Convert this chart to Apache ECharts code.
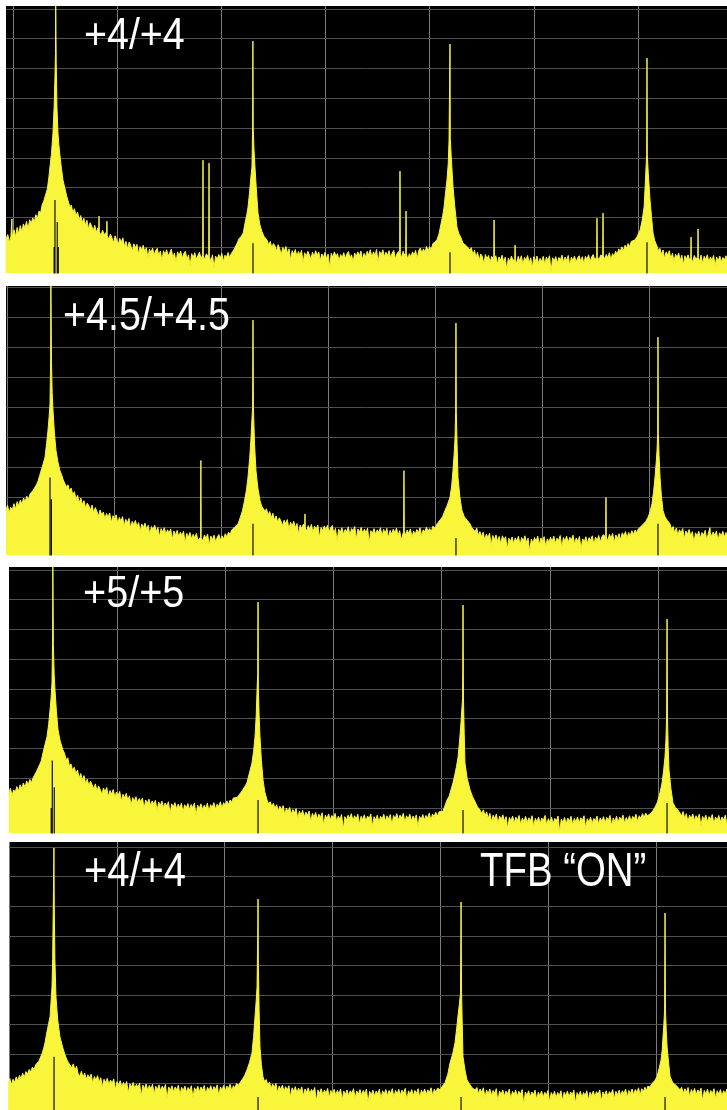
<!DOCTYPE html>
<html><head><meta charset="utf-8">
<script src="https://cdn.jsdelivr.net/npm/echarts@6/dist/echarts.min.js"></script>
<style>html,body{margin:0;padding:0;background:#fff;}#c{width:727px;height:1110px;}</style>
</head><body><div id="c"></div>
<script>
// x: trace point (100 points per division), y: level in dB (10 dB per division)
const xGridTicks = [0, 100, 200, 300, 400, 500, 600];
const yGridTicks = [0, -10, -20, -30, -40, -50, -60, -70, -80];

const panelLabels = ['+4/+4', '+4.5/+4.5', '+5/+5', '+4/+4'];
const noteLabel = 'TFB \u201CON\u201D';

const trace1 = [[-7,-77.5],[-5,-75.8],[-3.5,-78.4],[-2,-76.6],[-1.2,-77.2],[-1,-70.6],[-0.8,-76.8],[1,-74.2],[2.5,-76.5],[4,-73.4],[5.5,-75.6],[7,-72.8],[8.5,-74.9],[10,-72.2],[11.5,-73.6],[13,-71.4],[14.5,-74],[16,-70.8],[17.5,-72.1],[19,-70.2],[20.5,-71.6],[22,-69.1],[23.5,-70.4],[25,-67.9],[26.5,-68.6],[28,-65.8],[29.5,-64.6],[31,-62.8],[33,-60.5],[34.5,-56.5],[35.5,-53.1],[37,-48.5],[38.4,-41.7],[39.5,-33],[40.3,-22.9],[40.8,-15],[41,3],[41.3,3],[41.5,-18],[42.2,-33],[43.2,-41.7],[44,-45.5],[45,-49],[46.5,-53.5],[48,-57.5],[50,-60.5],[51.5,-62.8],[53,-62.4],[54.7,-66.6],[56,-65.9],[57.5,-68.4],[59,-67.1],[60.5,-69.5],[62,-68.2],[63.5,-70.9],[65,-69.4],[66.5,-71.8],[68,-70.3],[69.5,-72.6],[71,-71],[72.5,-73.9],[74,-71.8],[75.5,-72.9],[77,-74.6],[78.5,-72.7],[80,-75.1],[81.5,-73.5],[82.3,-74.6],[82.6,-69.6],[82.9,-74.8],[84.5,-76.2],[86,-74.3],[87.5,-75.8],[89.9,-74.9],[90.2,-71.3],[90.5,-76.2],[92,-77.4],[93.5,-75.6],[95,-76.9],[96.5,-78.6],[98,-76.2],[99.5,-77.5],[101,-79.3],[102.5,-77.1],[104,-78.4],[105.5,-76.9],[107,-79.8],[108.5,-78.1],[110,-80.6],[111.5,-78.3],[113,-79.4],[114.5,-81.5],[116,-78.9],[117.5,-80.2],[119,-79.1],[120.5,-82.4],[122,-79.8],[123.5,-80.9],[125,-79.4],[126.5,-81.6],[128,-80.2],[129.5,-83.5],[131,-80.7],[132.5,-81.9],[134,-80.3],[135.5,-82.7],[137,-81.1],[138.5,-80.4],[140,-82.9],[141.5,-81.3],[143,-84.6],[144.5,-81.2],[146,-82.5],[147.5,-80.9],[149,-83.1],[150.5,-81.8],[152,-80.7],[153.5,-83.6],[155,-82],[156.5,-85.2],[158,-81.6],[159.5,-82.9],[161,-81.3],[162.5,-83.8],[164,-82.1],[165.5,-81.4],[167,-84.2],[168.5,-82.6],[170,-86.4],[171.5,-82.2],[173,-83.5],[174.5,-81.9],[176,-84.1],[177.5,-82.8],[179,-81.7],[180.5,-83.9],[182.1,-82.6],[182.4,-50.8],[182.7,-82.8],[184,-84.4],[185.5,-82.3],[187.9,-83.1],[188.2,-51.8],[188.5,-83.2],[190,-84.8],[191.5,-82.6],[193,-87.1],[194.5,-83],[196,-84.2],[197.5,-82.5],[199,-83.7],[200.5,-82.1],[202,-84.9],[203.5,-82.7],[205,-83.4],[206.5,-81.8],[208,-83.6],[209.5,-82.2],[211,-81.4],[212.5,-80.6],[214,-81.1],[215,-78.8],[217,-77.2],[219,-76.4],[221,-75.3],[223,-71.5],[224.5,-69],[225.6,-66.6],[227,-62],[228.5,-56],[229.4,-53.1],[230,-39.7],[230.3,-10.8],[230.6,-39.7],[231.3,-47],[232.3,-53.1],[233.5,-60],[235.2,-68.6],[237,-72.5],[239,-74.8],[241,-76.4],[243.8,-77.6],[245.5,-79.2],[247,-78.1],[248.5,-80.3],[250,-78.8],[251.5,-79.6],[253,-81.4],[254.5,-79.2],[256,-80.5],[257.5,-82.6],[259,-80.1],[260.5,-81.3],[262,-79.8],[263.5,-82.1],[265,-80.6],[266.5,-84.3],[268,-81.2],[269.5,-82.4],[271,-80.8],[272.5,-83.1],[274,-81.5],[275.5,-82.7],[277,-81.1],[278.5,-85.4],[280,-81.9],[281.5,-83.2],[283,-81.4],[284.5,-82.6],[286,-84],[287.5,-81.7],[289,-83.3],[290.5,-81.2],[292,-82.8],[293.5,-81.6],[295,-84.5],[296.5,-82.3],[298,-83.5],[299.5,-81.8],[301,-83.9],[302.5,-82.4],[304,-86.8],[305.5,-82.1],[307,-83.4],[308.5,-81.6],[310,-83],[311.5,-82.2],[313,-84.7],[314.5,-82.5],[316,-83.6],[317.5,-81.9],[319,-83.8],[320.5,-82.3],[322,-81.5],[323.5,-83.7],[325,-82.6],[326.5,-85.1],[328,-82],[329.5,-83.2],[331,-81.6],[332.5,-82.9],[334,-81.3],[335.5,-84.2],[337,-82.1],[338.5,-83.3],[340,-81.4],[341.5,-82.7],[343,-80.9],[344.5,-83.5],[346,-81.6],[347.5,-82.8],[349,-80.8],[350.5,-85.3],[352,-81.5],[353.5,-82.6],[355,-80.9],[356.5,-83.2],[358,-81.7],[359.5,-82.9],[361,-81.2],[362.5,-83.6],[364,-82],[365.5,-81.1],[367,-83.9],[368.5,-82.3],[370,-81.5],[371.2,-82.4],[371.5,-54.5],[371.8,-82.2],[373,-83.6],[374.5,-81.4],[376,-82.8],[377,-82.1],[377.3,-67.9],[377.6,-82.3],[379,-84.1],[380.5,-82.2],[382,-83.4],[383.5,-81.6],[385,-82.7],[386.5,-81.1],[388,-83.9],[389.5,-81.2],[391,-80.3],[392.5,-82.1],[394,-80.6],[395.5,-81.7],[397,-79.8],[398.5,-81.2],[400,-79.9],[401.5,-80.8],[403,-78.9],[405,-78.2],[407,-77.6],[409,-75.5],[411,-72],[412.5,-69.5],[413.8,-66.6],[415,-62.5],[416.6,-57.5],[417.8,-52],[418.6,-44],[419.2,-43.4],[419.5,-11.8],[419.8,-43.4],[420.6,-49],[421.5,-54.5],[422.4,-59.8],[424,-66],[426.2,-73.3],[428,-75.5],[430,-76.8],[432,-78.7],[435,-79.5],[438.7,-81],[440,-80.2],[441.5,-82.6],[443,-81.1],[444.5,-83.4],[446,-81.8],[447.5,-84.6],[449,-82.3],[450.5,-83.1],[452,-85.7],[453.5,-82.5],[455,-84],[456.5,-82.8],[458,-85.2],[459.5,-83.1],[461.5,-84.3],[461.8,-70.9],[462.1,-84.1],[463.5,-82.9],[465,-85.8],[466.5,-83.3],[468,-84.4],[469.5,-82.7],[471,-85.1],[472.5,-83.4],[474,-87.6],[475.5,-83.7],[477,-84.9],[478.5,-83],[480,-84.6],[481.7,-83.8],[482,-79.3],[482.3,-84.2],[483.5,-85.5],[485,-83.1],[486.5,-84.7],[488,-82.9],[489.5,-85.9],[491,-83.5],[492.5,-84.4],[494,-82.8],[495.5,-85.3],[497,-83.6],[498.5,-86.9],[500,-83.2],[501.5,-84.8],[503,-83],[504.5,-85.5],[506,-83.8],[507.5,-84.9],[509,-83.1],[510.5,-85.8],[512,-83.4],[513.5,-84.5],[515,-82.9],[516.5,-88.3],[518,-83.6],[519.5,-84.7],[521,-83.2],[522.5,-85.4],[524,-83.5],[525.5,-84.3],[527,-82.7],[528.5,-85.1],[530,-83.3],[531.5,-84.6],[533,-82.8],[534.5,-86.2],[536,-83.4],[537.5,-84.5],[539,-83],[540.5,-85],[542,-83.7],[543.5,-82.9],[545,-84.8],[546.5,-83.2],[548,-85.6],[549.5,-83.1],[551,-84.2],[552.5,-82.6],[554,-84.9],[555.5,-83.3],[557,-82.5],[558.5,-84.4],[560.3,-83.3],[560.6,-70.3],[560.9,-83.1],[562.5,-84.6],[564,-82.7],[566.1,-83],[566.4,-68.6],[566.7,-82.8],[568,-84.2],[569.5,-82.5],[571,-83.6],[572.5,-81.9],[574,-84.3],[575.5,-82.2],[577,-83.1],[578.5,-81.4],[580,-82.4],[581.5,-80.6],[583,-81.5],[584.5,-79.9],[586,-81.2],[587.5,-79.4],[589,-80.3],[590.5,-78.8],[592,-79.9],[593.5,-78.1],[595,-78.6],[597,-77.6],[599,-76.5],[602,-74.3],[604,-71],[605.8,-66.6],[606.8,-60],[607.7,-53.1],[608.3,-49],[608.6,-16.5],[608.9,-49],[609.8,-55],[611.5,-64.2],[613,-70],[614.4,-75.3],[616,-77.8],[618,-79.5],[619.5,-81.2],[621,-80.4],[622.5,-82.5],[624,-81],[625.5,-83.8],[627,-81.6],[628.5,-82.7],[630,-81.2],[631.5,-83.9],[633,-82.1],[634.5,-84.8],[636,-82.4],[637.5,-83.5],[639,-82],[640.5,-84.6],[642,-82.7],[643.5,-85.9],[645,-82.9],[646.5,-84.1],[648,-82.6],[649.5,-84.4],[650.6,-83.5],[650.9,-76.6],[651.2,-83.7],[652.5,-85.2],[654,-82.8],[655.5,-84],[657.3,-83.3],[657.6,-73.9],[657.9,-83.5],[659,-84.9],[660.5,-82.7],[662,-85.6],[663.5,-83.1],[665,-84.2],[666.5,-82.6],[668,-85.1],[669.5,-83.3],[671,-84.5],[672.5,-82.8],[674,-86.3],[675.5,-83.4],[677,-84.6],[678.5,-83],[680,-85],[681.5,-83.5],[683,-84.3],[684.5,-82.9],[686,-84.8],[687.5,-83.6]];

const trace2 = [[-1,-74.4],[0.5,-72.6],[2,-75.1],[3.5,-73.3],[5,-74.2],[6.5,-72.1],[8,-73.9],[9.5,-71.4],[11,-72.8],[12.5,-70.9],[14,-72.3],[15.5,-70.2],[17,-71.5],[18.5,-69.6],[20,-70.8],[21.5,-68.9],[23,-69.4],[24.5,-67.6],[26,-67.9],[27.5,-65.8],[29,-64.6],[30.5,-62.7],[31.5,-62.1],[33,-59.8],[35.5,-56.7],[37,-52],[38.3,-47.7],[39.4,-43],[40.2,-38.7],[40.8,-23.3],[41,3],[41.3,3],[41.6,-25],[42.2,-35],[43,-41],[44.3,-48.5],[45.8,-54.4],[47.5,-58],[49.5,-61.1],[51,-62.4],[52.5,-64.1],[54,-63.6],[55.5,-66.5],[57,-65.8],[58.5,-67.9],[60,-66.9],[61.5,-69.2],[63,-68.1],[64.5,-70.6],[66,-69.3],[67.5,-71.8],[69,-70.2],[70.5,-72.4],[72,-71.1],[73.5,-73.6],[75,-71.9],[76.5,-72.8],[78,-74.3],[79.5,-72.6],[81,-75.1],[82.5,-73.4],[84,-74.6],[85.5,-76.3],[87,-74.2],[88.5,-75.8],[90,-74.9],[91.5,-77.1],[93,-75.4],[94.5,-76.6],[96,-75.2],[97.5,-78.4],[99,-76.1],[100.5,-77.2],[102,-75.8],[103.5,-78.6],[105,-76.7],[106.5,-77.9],[108,-76.4],[109.5,-79.5],[111,-77.3],[112.5,-78.5],[114,-77],[115.5,-80.2],[117,-78],[118.5,-79.1],[120,-77.7],[121.5,-79.8],[123,-78.4],[124.5,-81.3],[126,-78.9],[127.5,-80],[129,-78.6],[130.5,-80.7],[132,-79.3],[133.5,-82.4],[135,-79.7],[136.5,-80.8],[138,-79.2],[139.5,-81.4],[141,-80],[142.5,-83.1],[144,-80.4],[145.5,-81.6],[147,-80.1],[148.5,-82.3],[150,-80.8],[151.5,-81.9],[153,-80.5],[154.5,-84],[156,-81.2],[157.5,-82.5],[159,-81],[160.5,-83.1],[162,-81.6],[163.5,-82.8],[165,-81.3],[166.5,-85.2],[168,-82],[169.5,-83.3],[171,-81.7],[172.5,-83.8],[174,-82.3],[175.5,-83.5],[177,-82],[178.5,-84.4],[180.9,-83.2],[181.2,-57.7],[181.5,-83.4],[183,-84.6],[184.5,-82.5],[186,-83.7],[187.5,-82.2],[189,-86.1],[190.5,-82.9],[192,-84.1],[193.5,-82.6],[195,-84.8],[196.5,-83.3],[198,-82.4],[199.5,-84.3],[201,-82.8],[202.5,-83.9],[204,-82.1],[205.5,-83.2],[207,-81.6],[208.5,-82.4],[210,-80.9],[211.5,-81.5],[213,-79.8],[214.5,-80.3],[216,-78.8],[218,-76.7],[220,-74.5],[222,-71.1],[223.8,-67.5],[225.2,-63.4],[226.8,-57],[228,-50.5],[229.5,-40],[229.9,-10.9],[230.3,-40],[231.3,-52],[232.7,-61.1],[234.5,-67],[236.5,-71.1],[238,-72.9],[239.5,-72.4],[241,-74.6],[242.5,-73.8],[244,-75.9],[245.5,-74.7],[247,-76.8],[248.5,-75.3],[250,-77.6],[251.5,-76.2],[253,-78.3],[254.5,-76.8],[256,-77.9],[257.5,-79.4],[259,-77.6],[260.5,-78.8],[262,-77.4],[263.5,-80.6],[265,-78.3],[266.5,-79.5],[268,-78],[269.5,-80.1],[271,-78.7],[272.5,-82.2],[274,-79.2],[275.5,-80.4],[277,-78.9],[278.2,-79.6],[278.5,-75.5],[278.8,-80.2],[280,-81.3],[281.5,-79.4],[283,-80.6],[284.5,-79],[286,-81.8],[287.5,-79.6],[289,-80.7],[290.5,-79.2],[292,-83.4],[293.5,-80],[295,-81.1],[296.5,-79.5],[298,-80.8],[299.5,-79.3],[301,-81.6],[302.5,-80.1],[304,-79.4],[305.5,-82],[307,-80.3],[308.5,-84.6],[310,-80.6],[311.5,-81.7],[313,-80.1],[314.5,-82.3],[316,-80.7],[317.5,-81.5],[319,-79.8],[320.5,-82.6],[322,-80.4],[323.5,-81.2],[325,-79.7],[326.5,-83.8],[328,-80.5],[329.5,-81.6],[331,-80],[332.5,-82.1],[334,-80.6],[335.5,-81.8],[337,-80.2],[338.5,-85.3],[340,-81.1],[341.5,-82],[343,-80.4],[344.5,-82.4],[346,-80.8],[347.5,-81.7],[349,-80.1],[350.5,-82.9],[352,-80.7],[353.5,-81.9],[355,-80.3],[356.5,-83.5],[358,-81],[359.5,-82.2],[361,-80.6],[362.5,-81.8],[364,-80.2],[365.5,-82.7],[367,-81.1],[368.5,-84.2],[370.7,-81.3],[371,-61.1],[371.3,-81.2],[372.5,-82.6],[374,-80.9],[375.5,-82],[377,-80.5],[378.5,-83.3],[380,-81.2],[381.5,-82.4],[383,-80.7],[384.5,-81.8],[386,-80.1],[387.5,-82.9],[389,-80.8],[390.5,-81.6],[392,-79.9],[393.5,-81.3],[395,-80.4],[396.5,-81.5],[398,-79.6],[400,-80.2],[402,-78.8],[405,-77.4],[407,-76.5],[409.3,-74.4],[411.5,-72.6],[414,-70],[415.5,-66.5],[416.8,-61.1],[417.8,-56],[418.7,-50.5],[419.3,-41.3],[419.6,-11.9],[419.9,-41.3],[420.6,-52],[421.5,-63.4],[423.3,-70],[425.2,-74.4],[427.5,-76.5],[430,-77.6],[432.7,-78.8],[434.5,-80.2],[436,-79.6],[437.5,-81.4],[439,-80.2],[440.5,-82.6],[442,-81.4],[443.5,-83.1],[445,-81.6],[446.5,-84.3],[448,-82.2],[449.5,-83.5],[451,-81.9],[452.5,-86],[454,-82.7],[455.5,-84.1],[457,-82.5],[458.5,-84.7],[460,-83],[461.5,-85.5],[463,-82.8],[464.5,-84.2],[466,-83.1],[467.5,-87.4],[469,-83.6],[470.5,-84.8],[472,-83.2],[473.5,-85.4],[475,-83.5],[476.5,-84.6],[478,-82.9],[479.5,-85.9],[481,-83.4],[482.5,-84.5],[484,-82.8],[485.5,-85.1],[487,-83.6],[488.5,-88.1],[490,-83.9],[491.5,-85.2],[493,-83.4],[494.5,-84.6],[496,-82.9],[497.5,-85.7],[499,-83.5],[500.5,-84.8],[502,-83.1],[503.5,-86.4],[505,-83.8],[506.5,-85],[508,-83.3],[509.5,-84.7],[511,-82.9],[512.5,-85.4],[514,-83.6],[515.5,-84.4],[517,-82.7],[518.5,-86.8],[520,-83.4],[521.5,-84.6],[523,-82.9],[524.5,-85.1],[526,-83.3],[527.5,-84.2],[529,-82.6],[530.5,-85.6],[532,-83.5],[533.5,-84.7],[535,-83],[536.5,-87.2],[538,-83.8],[539.5,-84.9],[541,-83.1],[542.5,-85.3],[544,-83.4],[545.5,-84.3],[547,-82.8],[548.5,-85.8],[550,-83.2],[551.5,-84.4],[553,-82.7],[554.5,-84.9],[556,-83.1],[557.5,-82.4],[559.5,-83.4],[559.8,-70],[560.1,-83.2],[561.5,-84.5],[563,-82.3],[564.5,-83.6],[566,-82],[567.5,-85.1],[569,-82.5],[570.5,-83.7],[572,-82.1],[573.5,-84.2],[575,-81.8],[576.5,-82.9],[578,-81.4],[579.5,-83.6],[581,-81.7],[582.5,-82.8],[584,-81.1],[585.5,-82.4],[587,-80.9],[588.5,-81.8],[590,-80.5],[591.6,-80.1],[594,-79.2],[597,-78],[599,-76.7],[601,-74.8],[602.8,-72.1],[604.3,-68],[605.6,-63.4],[606.7,-58.5],[607.5,-54.4],[608.1,-48.7],[608.4,-16.6],[608.7,-48.7],[609.4,-56],[610.3,-63.4],[611.6,-69.5],[613.1,-74.4],[615,-76.5],[617,-77.6],[619.6,-78.8],[621,-80.6],[622.5,-79.7],[624,-81.8],[625.5,-80.2],[627,-82.6],[628.5,-80.8],[630,-81.9],[631.5,-80.4],[633,-83.7],[634.5,-81.2],[636,-82.3],[637.5,-80.7],[639,-82.9],[640.5,-81.4],[642,-85.1],[643.5,-81.8],[645,-82.9],[646.5,-81.3],[648,-83.5],[649.5,-81.7],[651,-82.6],[652.5,-81],[654,-84.2],[655.5,-81.9],[656.7,-81.4],[657,-80.1],[657.3,-81.7],[658.5,-83],[660,-81.5],[661.5,-82.7],[663,-81.2],[664.5,-84.4],[666,-81.8],[667.5,-82.9],[669,-81.3],[670.5,-83.2],[672,-81.7],[673.5,-82.8],[675,-81.5]];

const trace3 = [[0,-75],[1.5,-73.4],[3,-75.8],[4.5,-73.9],[6,-74.6],[7.5,-72.8],[9,-74.3],[10.5,-72.2],[12,-73.5],[13.5,-71.6],[15,-73.1],[16.5,-70.9],[18,-72.2],[19.5,-70.4],[21,-71.5],[22.5,-69.8],[24,-69.9],[25.5,-67.8],[27,-67.2],[28.5,-65.4],[30,-64.2],[31.6,-61.5],[33.5,-58.6],[35.3,-56.1],[36.8,-52],[38.1,-47.1],[39.1,-43],[39.9,-38],[40.5,-22.5],[40.7,3],[41,3],[41.2,-25],[41.9,-35],[42.7,-40.3],[44,-47.5],[45.5,-53.8],[47.5,-57.5],[50,-60.5],[51.5,-61.6],[53,-63.8],[54.5,-63.1],[56,-65.9],[57.5,-65.2],[59,-67.4],[60.5,-66.3],[62,-68.5],[63.5,-67.2],[65,-69.9],[66.5,-68.4],[68,-70.6],[69.5,-69.1],[71,-71.8],[72.5,-70.3],[74,-72.5],[75.5,-71],[77,-72.2],[78.5,-73.6],[80,-71.9],[81.5,-74.2],[83,-72.6],[84.5,-73.8],[86,-75.4],[87.5,-73.3],[89,-74.6],[90.5,-73.1],[92,-76.2],[93.5,-74.1],[95,-75.3],[96.5,-73.8],[98,-76.4],[99.5,-74.6],[101,-75.9],[102.5,-74.4],[104,-77.6],[105.5,-75.4],[107,-76.6],[108.5,-75.1],[110,-77.3],[111.5,-75.9],[113,-79.1],[114.5,-76.5],[116,-77.7],[117.5,-76.2],[119,-78.3],[120.5,-76.8],[122,-77.9],[123.5,-76.6],[125,-80.2],[126.5,-77.3],[128,-78.5],[129.5,-77],[131,-79.2],[132.5,-77.6],[134,-78.8],[135.5,-77.4],[137,-81],[138.5,-78],[140,-79.2],[141.5,-77.7],[143,-79.8],[144.5,-78.3],[146,-79.4],[147.5,-77.9],[149,-82.1],[150.5,-78.6],[152,-79.7],[153.5,-78.2],[155,-80.3],[156.5,-78.7],[158,-79.9],[159.5,-78.4],[161,-81.5],[162.5,-78.9],[164,-80],[165.5,-78.5],[167,-80.6],[168.5,-78.8],[170,-79.9],[171.5,-78.3],[173,-82.6],[174.5,-79],[176,-80.2],[177.5,-78.6],[179,-80.5],[180.5,-79.1],[182,-80.1],[183.5,-78.4],[185,-81.2],[186.5,-78.9],[188,-79.8],[189.5,-78.2],[191,-80.4],[192.5,-78.7],[194,-79.5],[195.5,-77.9],[197,-80.1],[198.5,-78.2],[200,-79.1],[201.5,-77.6],[203,-78.9],[204.5,-77.3],[206,-78.1],[207.5,-76.6],[209,-77.2],[211,-76.5],[214,-75],[216,-74],[218,-72.8],[220,-71.6],[222.5,-68],[224.7,-64.9],[226.2,-61],[227.5,-56.1],[228.6,-49],[229.4,-40.3],[230,-35],[230.3,-10.8],[230.6,-40],[231.3,-49],[232.1,-56.1],[233.4,-64],[234.9,-70.6],[236.5,-74.5],[238.6,-77.3],[240,-78.6],[241.5,-77.9],[243,-79.5],[244.5,-78.4],[246,-80.2],[247.5,-78.9],[249,-81.1],[250.5,-79.4],[252,-80.6],[253.5,-79.2],[255,-82.3],[256.5,-80],[258,-81.3],[259.5,-79.8],[261,-82.1],[262.5,-80.5],[264,-81.7],[265.5,-80.2],[267,-83.6],[268.5,-81.1],[270,-82.4],[271.5,-80.8],[273,-83],[274.5,-81.4],[276,-82.5],[277.5,-81],[279,-84.8],[280.5,-81.8],[282,-83.1],[283.5,-81.5],[285,-83.7],[286.5,-82.1],[288,-83.2],[289.5,-81.6],[291,-85.9],[292.5,-82.4],[294,-83.6],[295.5,-82],[297,-84.1],[298.5,-82.5],[300,-83.4],[301.5,-81.8],[303,-84.6],[304.5,-82.7],[306,-83.9],[307.5,-82.2],[309,-87.3],[310.5,-82.9],[312,-84.1],[313.5,-82.4],[315,-83.5],[316.5,-81.9],[318,-84.3],[319.5,-82.6],[321,-83.8],[322.5,-82.1],[324,-85.4],[325.5,-82.8],[327,-83.9],[328.5,-82.3],[330,-84.5],[331.5,-82.7],[333,-83.6],[334.5,-82],[336,-86.2],[337.5,-82.9],[339,-84],[340.5,-82.4],[342,-84.7],[343.5,-82.8],[345,-83.7],[346.5,-82.1],[348,-84.4],[349.5,-82.6],[351,-83.8],[352.5,-82.2],[354,-85.8],[355.5,-82.5],[357,-83.6],[358.5,-81.9],[360,-84.1],[361.5,-82.4],[363,-83.3],[364.5,-81.8],[366,-84.9],[367.5,-82.6],[369,-83.7],[370.5,-82.1],[372,-84.3],[373.5,-82.7],[375,-83.9],[376.5,-82.3],[378,-86.5],[379.5,-82.8],[381,-83.9],[382.5,-82.2],[384,-84],[385.5,-82.5],[387,-83.4],[388.5,-81.7],[390,-84.2],[391.5,-82],[393,-82.9],[394.5,-81.4],[396,-82.8],[397.5,-81.3],[398.4,-80.7],[401,-81.2],[403,-79.2],[404.9,-77.3],[407,-76],[408.8,-73.6],[410.4,-71.6],[412,-69],[413.7,-66],[415.1,-62.9],[416.5,-57.5],[417.8,-51.4],[419.3,-43],[419.7,-11.8],[420.1,-43],[420.8,-55],[421.5,-64.9],[423.5,-70],[426.2,-73.9],[428.5,-76.2],[431,-78],[433,-79.6],[435.4,-80.7],[437,-81.9],[438.5,-80.6],[440,-82.7],[441.5,-81.3],[443,-83.5],[444.5,-81.8],[446,-84.6],[447.5,-82.4],[449,-83.6],[450.5,-82],[452,-85.3],[453.5,-82.7],[455,-83.9],[456.5,-82.3],[458,-84.5],[459.5,-82.9],[461,-87],[462.5,-83.2],[464,-84.3],[465.5,-82.7],[467,-85],[468.5,-83.1],[470,-84.2],[471.5,-82.5],[473,-85.7],[474.5,-83.4],[476,-84.6],[477.5,-82.8],[479,-84.9],[480.5,-83.3],[482,-84.4],[483.5,-82.6],[485,-86.3],[486.5,-83.5],[488,-84.7],[489.5,-83],[491,-85.2],[492.5,-83.4],[494,-84.1],[495.5,-82.5],[497,-85.8],[498.5,-83.6],[500,-84.8],[501.5,-83.1],[503,-85.3],[504.5,-83.5],[506,-84.3],[507.5,-82.7],[509,-88],[510.5,-83.7],[512,-84.9],[513.5,-83.2],[515,-85.4],[516.5,-83.4],[518,-84.5],[519.5,-82.8],[521,-85.6],[522.5,-83.5],[524,-84.7],[525.5,-83],[527,-85.1],[528.5,-83.3],[530,-84.2],[531.5,-82.6],[533,-86.7],[534.5,-83.6],[536,-84.8],[537.5,-83.1],[539,-85.2],[540.5,-83.5],[542,-84.4],[543.5,-82.7],[545,-85.5],[546.5,-83.3],[548,-84.5],[549.5,-82.9],[551,-85],[552.5,-83.2],[554,-84.1],[555.5,-82.5],[557,-86],[558.5,-83.4],[560,-84.5],[561.5,-82.8],[563,-84.8],[564.5,-83.1],[566,-84],[567.5,-82.4],[569,-85.2],[570.5,-83.2],[572,-84.3],[573.5,-82.6],[575,-84.5],[576.5,-82.8],[578,-83.7],[579.5,-82.1],[581,-84.6],[582.5,-82.6],[584,-83.5],[585.5,-81.9],[587,-83.2],[588.5,-81.7],[590,-82.6],[592.5,-82],[595,-81],[597,-79.8],[599,-78.3],[601,-76],[603.6,-71.6],[605,-67.5],[606.3,-62.9],[607.2,-57],[607.8,-49.4],[608.2,-16.5],[608.6,-49.4],[609.2,-59],[610,-67.2],[611.8,-73.5],[613.7,-78.3],[616,-79.8],[618,-80.6],[620.2,-81.7],[621.5,-82.8],[623,-81.2],[624.5,-83.5],[626,-81.9],[627.5,-84.7],[629,-82.4],[630.5,-83.6],[632,-82],[633.5,-84.2],[635,-82.6],[636.5,-83.7],[638,-82.1],[639.5,-86.1],[641,-82.8],[642.5,-84],[644,-82.4],[645.5,-84.6],[647,-82.9],[648.5,-83.8],[650,-82.2],[651.5,-85.3],[653,-83],[654.5,-84.1],[656,-82.5],[657.5,-84.7],[659,-83],[660.5,-84],[662,-82.4],[663.5,-85.5],[665,-83.1]];

const trace4 = [[-1,-79.7],[0.5,-78.2],[2,-80.4],[3.5,-78.5],[5,-79.6],[6.5,-77.7],[8,-79.1],[9.5,-77.2],[11,-78.3],[12.5,-76.5],[14,-77.9],[15.5,-75.9],[17,-76.8],[18.5,-75.2],[20,-76.1],[21.5,-74.4],[23,-75.3],[24.5,-73.6],[26,-73.9],[27.5,-72.4],[28.6,-72],[30.5,-69.8],[32,-68],[33.2,-66.2],[35,-62.5],[36.5,-59.8],[37.9,-57.4],[38.8,-52.5],[39.7,-47.3],[40.3,-38],[40.6,-29.1],[41.1,-14],[41.5,-0.3],[41.8,-20],[42.4,-38],[43.4,-50.7],[45,-58.5],[47.1,-64.2],[49.5,-67.6],[51.5,-70],[53.6,-72],[55,-72.9],[56.5,-72.4],[58,-74.6],[59.5,-73.3],[61,-75.5],[62.5,-74.1],[64,-76.7],[65.7,-77.4],[67,-75.8],[68.5,-77.9],[70,-76.4],[71.5,-78.6],[73,-77],[74.5,-78.1],[76,-76.8],[77.5,-79.9],[79,-77.6],[80.5,-78.8],[82,-77.3],[83.5,-79.5],[85,-78],[86.5,-81.2],[88,-78.5],[89.5,-79.7],[91,-78.2],[92.5,-80.3],[94,-78.8],[95.5,-79.9],[97,-78.4],[98.5,-82],[100,-79.3],[101.5,-80.5],[103,-79],[104.5,-81.1],[106,-79.6],[107.5,-80.8],[109,-79.3],[110.5,-83.2],[112,-80],[113.5,-81.2],[115,-79.6],[116.5,-81.7],[118,-80.2],[119.5,-81.3],[121,-79.8],[122.5,-84.4],[124,-80.5],[125.5,-81.7],[127,-80.1],[128.5,-82.2],[130,-80.6],[131.5,-81.8],[133,-80.2],[134.5,-83.6],[136,-80.9],[137.5,-82],[139,-80.4],[140.5,-82.5],[142,-80.8],[143.5,-81.9],[145,-80.3],[146.5,-85.1],[148,-81.1],[149.5,-82.3],[151,-80.7],[152.5,-82.8],[154,-81.1],[155.5,-82.1],[157,-80.5],[158.5,-83.9],[160,-81.2],[161.5,-82.4],[163,-80.8],[164.5,-82.9],[166,-81.3],[167.5,-82.3],[169,-80.7],[170.5,-84.8],[172,-81.4],[173.5,-82.5],[175,-80.9],[176.5,-82.7],[178,-81.1],[179.5,-82.2],[181,-80.6],[182.5,-83.7],[184,-81.2],[185.5,-82.3],[187,-80.7],[188.5,-82.6],[190,-81],[191.5,-82],[193,-80.4],[194.5,-84.3],[196,-81.1],[197.5,-82.2],[199,-80.6],[200.5,-82.4],[202,-80.8],[203.5,-81.7],[205,-80.2],[206.5,-82.5],[208,-80.7],[209.5,-81.4],[211,-79.9],[212.5,-80.6],[214.2,-79.7],[216.5,-78.4],[218.5,-77.2],[220.7,-75.3],[223,-72.8],[225.3,-69.6],[226.8,-64],[228.1,-57.4],[229.2,-52],[230,-47.3],[230.6,-30],[230.9,-17.6],[231.2,-40],[231.9,-55],[232.7,-67.6],[234,-73.5],[235.5,-77.7],[237,-79.3],[238.5,-78.6],[240,-80.5],[241.5,-79.4],[243,-81.6],[244.5,-80.1],[246,-81.3],[247.5,-79.9],[249,-83.1],[250.5,-80.8],[252,-82],[253.5,-80.5],[255,-82.6],[256.5,-81],[258,-82.2],[259.5,-80.7],[261,-84.5],[262.5,-81.4],[264,-82.6],[265.5,-81],[267,-83.1],[268.5,-81.5],[270,-82.7],[271.5,-81.1],[273,-84.1],[274.5,-81.8],[276,-83],[277.5,-81.4],[279,-83.5],[280.5,-81.9],[282,-82.9],[283.5,-81.3],[285,-86],[286.5,-82.1],[288,-83.3],[289.5,-81.7],[291,-83.8],[292.5,-82.2],[294,-83.2],[295.5,-81.6],[297,-84.7],[298.5,-82.3],[300,-83.5],[301.5,-81.9],[303,-83.9],[304.5,-82.3],[306,-83.4],[307.5,-81.8],[309,-85.5],[310.5,-82.5],[312,-83.7],[313.5,-82.1],[315,-84.1],[316.5,-82.4],[318,-83.3],[319.5,-81.7],[321,-84.9],[322.5,-82.5],[324,-83.6],[325.5,-82],[327,-83.9],[328.5,-82.3],[330,-83.4],[331.5,-81.8],[333,-86.4],[334.5,-82.6],[336,-83.8],[337.5,-82.2],[339,-84.2],[340.5,-82.5],[342,-83.5],[343.5,-81.9],[345,-85],[346.5,-82.4],[348,-83.6],[349.5,-82],[351,-84],[352.5,-82.3],[354,-83.3],[355.5,-81.7],[357,-84.6],[358.5,-82.3],[360,-83.5],[361.5,-81.9],[363,-83.8],[364.5,-82.2],[366,-83.2],[367.5,-81.6],[369,-85.7],[370.5,-82.4],[372,-83.6],[373.5,-82],[375,-84],[376.5,-82.3],[378,-83.3],[379.5,-81.7],[381,-84.8],[382.5,-82.2],[384,-83.4],[385.5,-81.8],[387,-83.7],[388.5,-82.1],[390,-83],[391.5,-81.4],[393,-84.1],[394.5,-81.9],[396,-82.9],[397.5,-81.5],[399.8,-82.1],[402,-80.8],[404.4,-79.7],[407,-76.8],[409.1,-73],[411.5,-70],[413.7,-66.2],[415.2,-61.5],[416.5,-57],[417.8,-53],[418.8,-49.3],[419.3,-18.6],[419.8,-49.3],[420.4,-60],[421.1,-70.9],[423,-75.5],[424.8,-78.7],[427,-80],[429.5,-81.4],[432.3,-82.1],[434,-81.3],[435.5,-83.4],[437,-81.8],[438.5,-83],[440,-81.4],[441.5,-84.6],[443,-82.2],[444.5,-83.4],[446,-81.8],[447.5,-83.9],[449,-82.3],[450.5,-83.3],[452,-81.7],[453.5,-86.1],[455,-82.5],[456.5,-83.7],[458,-82.1],[459.5,-84.2],[461,-82.5],[462.5,-83.5],[464,-81.9],[465.5,-85.2],[467,-82.6],[468.5,-83.8],[470,-82.2],[471.5,-84.3],[473,-82.6],[474.5,-83.6],[476,-82],[477.5,-87.1],[479,-82.8],[480.5,-84],[482,-82.4],[483.5,-84.5],[485,-82.8],[486.5,-83.8],[488,-82.2],[489.5,-85.4],[491,-82.9],[492.5,-84.1],[494,-82.5],[495.5,-84.6],[497,-82.9],[498.5,-83.9],[500,-82.3],[501.5,-86.3],[503,-83],[504.5,-84.2],[506,-82.6],[507.5,-84.7],[509,-83],[510.5,-84],[512,-82.4],[513.5,-85.8],[515,-82.9],[516.5,-84.1],[518,-82.5],[519.5,-84.5],[521,-82.8],[522.5,-83.8],[524,-82.2],[525.5,-86.6],[527,-83],[528.5,-84.2],[530,-82.6],[531.5,-84.7],[533,-83],[534.5,-84],[536,-82.4],[537.5,-85.5],[539,-82.9],[540.5,-84.1],[542,-82.5],[543.5,-84.4],[545,-82.7],[546.5,-83.7],[548,-82.1],[549.5,-86],[551,-82.8],[552.5,-84],[554,-82.4],[555.5,-84.4],[557,-82.7],[558.5,-83.6],[560,-82],[561.5,-85.1],[563,-82.6],[564.5,-83.8],[566,-82.2],[567.5,-84.1],[569,-82.4],[570.5,-83.4],[572,-81.8],[573.5,-84.6],[575,-82.3],[576.5,-83.4],[578,-81.8],[579.5,-83.7],[581,-82],[582.5,-83],[584,-81.4],[585.5,-83.9],[587,-81.7],[588.5,-82.7],[590,-81.2],[591.5,-82.4],[592.5,-80.9],[594.6,-81.1],[597,-79.8],[599,-79],[601.1,-77.7],[603,-75],[604.9,-72],[606,-68.5],[606.7,-64.2],[607.5,-60],[608.2,-55.1],[608.6,-22.3],[609,-55.1],[609.7,-62],[610.5,-67.6],[611.9,-73],[613.3,-77.7],[616,-79.8],[619,-80.6],[622.6,-82.1],[624,-81.2],[625.5,-83.3],[627,-81.7],[628.5,-82.9],[630,-81.3],[631.5,-84.5],[633,-82],[634.5,-83.2],[636,-81.6],[637.5,-83.7],[639,-82.1],[640.5,-83.1],[642,-81.5],[643.5,-85.8],[645,-82.3],[646.5,-83.5],[648,-81.9],[649.5,-84],[651,-82.3],[652.5,-83.3],[654,-81.7],[655.5,-84.9],[657,-82.4],[658.5,-83.6],[660,-82],[661.5,-84.1],[663,-82.4],[664.5,-83.4],[666,-81.8],[667.5,-84.3]];

// dark streaks at the carrier bases: [point, top level dB]
const streaks1 = [[39.5,-80],[40.3,-64.2],[42.5,-71.6],[43.5,-80],[230.4,-78.7],[419.5,-81.7],[608.6,-78.4]];
const streaks2 = [[40.2,-63.4],[41.5,-70.6],[229.9,-78.8],[419.6,-83.5],[608.4,-78.8]];
const streaks3 = [[39.2,-80],[40.2,-64],[42,-73],[230.3,-77.3],[419.7,-80.7],[608.2,-78.3]];
const streaks4 = [[41.6,-70.9],[230.9,-84.5],[419.3,-84.5],[608.6,-84.5]];

const traces = [trace1, trace2, trace3, trace4];
const streaks = [streaks1, streaks2, streaks3, streaks4];

// layout of the four screen panels
const panels = [
  {left:6, top:6,   width:721, height:267, xmin:-6.7, xmax:685.4, ymin:-88.7, ymax:1.0},
  {left:6, top:286, width:721, height:269, xmin:-0.93, xmax:672.9, ymin:-89.2, ymax:0.47},
  {left:9, top:567, width:718, height:266, xmin:0.2, xmax:663.6, ymin:-88.4, ymax:1.0},
  {left:9, top:842, width:718, height:268, xmin:-0.2, xmax:666.1, ymin:-88.9, ymax:1.7}
];
const textLayout = [
  {x:84, y:37, size:45, sx:0.875},
  {x:63, y:317.5, size:47, sx:0.84},
  {x:83, y:594.5, size:44, sx:0.9},
  {x:84, y:873, size:48, sx:0.83}
];

const YEL = '#f9f53b';
const VGRID = '#7c7c7c';
const HGRID = '#505050';

const grid = [], xAxis = [], yAxis = [], series = [], graphic = [];
panels.forEach((p, i) => {
  grid.push({left:p.left, top:p.top, width:p.width, height:p.height, show:true,
    backgroundColor:'#000', borderWidth:0, z:0});
  xAxis.push({type:'value', gridIndex:i, min:p.xmin, max:p.xmax, show:false});
  yAxis.push({type:'value', gridIndex:i, min:p.ymin, max:p.ymax, show:false});
  series.push({
    type:'line', xAxisIndex:i, yAxisIndex:i, data:[[p.xmin, p.ymin - 50]], symbol:'none',
    lineStyle:{opacity:0}, silent:true, z:1,
    markLine:{silent:true, z:1, symbol:['none','none'], label:{show:false}, animation:false,
      data: xGridTicks.map(v => ({xAxis:v, lineStyle:{color:VGRID, width:1, type:'solid'}}))
        .concat(yGridTicks.map(v => ({yAxis:v, lineStyle:{color:HGRID, width:1, type:'solid'}})))}
  });
  series.push({
    type:'line', xAxisIndex:i, yAxisIndex:i, data:traces[i], symbol:'none', showSymbol:false,
    sampling:null, silent:true, z:3,
    lineStyle:{color:YEL, width:1},
    areaStyle:{color:YEL, opacity:1, origin:'start'}
  });
  const sd = [];
  streaks[i].forEach(s => { sd.push([s[0], p.ymin - 20]); sd.push([s[0], s[1]]); sd.push([s[0], '-']); });
  series.push({
    type:'line', xAxisIndex:i, yAxisIndex:i, data:sd, symbol:'none', silent:true, z:4,
    connectNulls:false, lineStyle:{color:'#111', width:1.2}
  });
  const t = textLayout[i];
  graphic.push({type:'text', x:t.x, y:t.y, scaleX:t.sx, z:100, silent:true,
    style:{text:panelLabels[i], fill:'#ffffff', font:t.size + 'px "Liberation Sans", Arial, sans-serif',
      verticalAlign:'middle', align:'left'}});
});
graphic.push({type:'text', x:480, y:873, scaleX:0.8, z:100, silent:true,
  style:{text:noteLabel, fill:'#ffffff', font:'48px "Liberation Sans", Arial, sans-serif',
    verticalAlign:'middle', align:'left'}});

const chart = echarts.init(document.getElementById('c'), null, {renderer:'canvas'});
chart.setOption({animation:false, backgroundColor:'#ffffff', grid, xAxis, yAxis, series, graphic});
</script></body></html>
